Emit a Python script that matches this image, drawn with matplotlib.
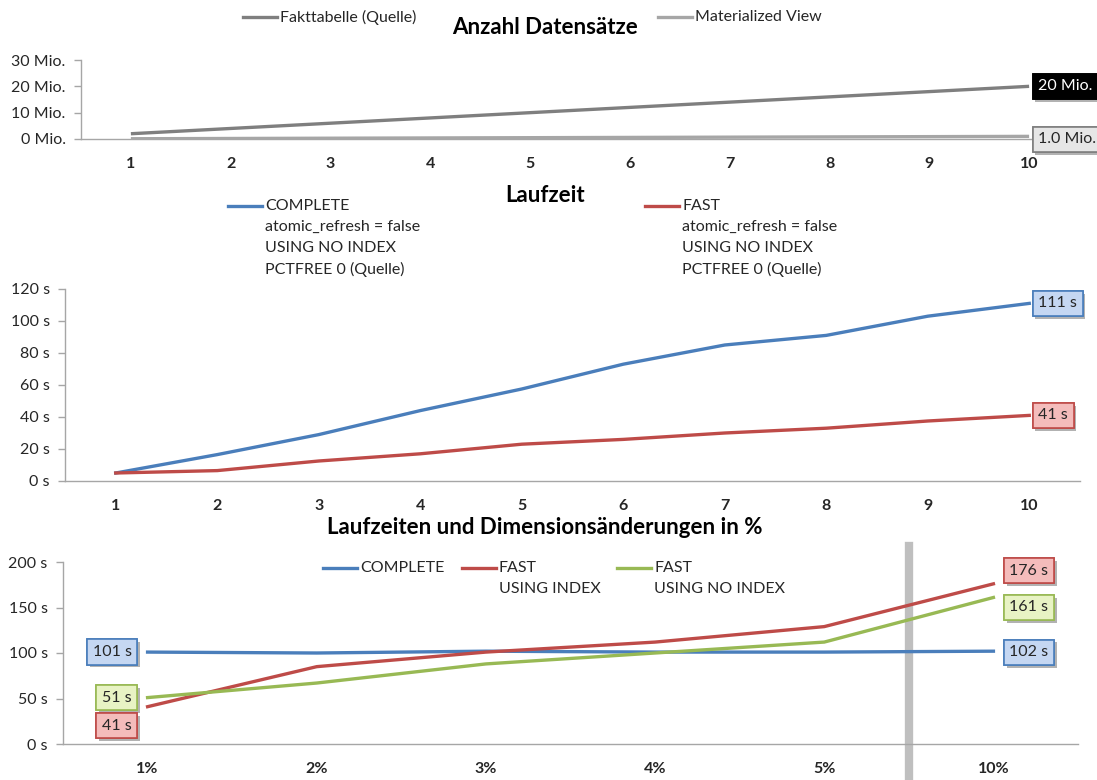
import numpy as np
import matplotlib
matplotlib.use('Agg')
import matplotlib.pyplot as plt
import matplotlib.patheffects as pe
from matplotlib.lines import Line2D

plt.rcParams['font.family'] = ['Lato', 'DejaVu Sans']

W, H = 1097, 780

# Anzahl Datensätze (Mio.)
runs = list(range(1, 11))
fakt_rows = [2, 4, 6, 8, 10, 12, 14, 16, 18, 20]
mv_rows = [0.1, 0.2, 0.3, 0.4, 0.5, 0.6, 0.7, 0.8, 0.9, 1.0]

# Laufzeit (s)
complete_time = [5, 16.5, 29, 44, 57.5, 73, 85, 91, 103, 111]
fast_time = [5, 6.5, 12.5, 17, 23, 26, 30, 33, 37.5, 41]

# Laufzeiten und Dimensionsänderungen in %
pct_labels = ['1%', '2%', '3%', '4%', '5%', '10%']
pct_complete = [101, 100, 102, 101, 101, 102]
pct_fast_index = [41, 85, 101, 112, 129, 176]
pct_fast_noindex = [51, 67, 88, 100, 112, 161]

BLUE = '#4a7ebb'
RED = '#be4b48'
GREEN = '#98b954'
DARK = '#7f7f7f'
LIGHT = '#a6a6a6'
TXT = '#262626'
FS = 11.5


def px_axes(fig, left, top, right, bottom):
    return fig.add_axes([left / W, 1 - bottom / H, (right - left) / W, (bottom - top) / H])


def style(ax, yticks, ylabels):
    for s in ('top', 'right'):
        ax.spines[s].set_visible(False)
    for s in ('left', 'bottom'):
        ax.spines[s].set_color('#a6a6a6')
        ax.spines[s].set_linewidth(1.0)
    ax.set_yticks(yticks)
    ax.set_yticklabels(ylabels)
    ax.set_ylim(yticks[0], yticks[-1])
    ax.tick_params(axis='y', length=5, width=1, color='#a6a6a6', labelsize=FS,
                   labelcolor=TXT, pad=6)
    ax.tick_params(axis='x', length=0, labelsize=FS, labelcolor=TXT, pad=13)
    for lab in ax.get_xticklabels():
        lab.set_fontweight('bold')


def legend_entry(fig, x, y, color, lines):
    fig.add_artist(Line2D([x / W, (x + 34) / W], [1 - y / H, 1 - y / H],
                          color=color, lw=2.4, transform=fig.transFigure))
    for i, t in enumerate(lines):
        fig.text((x + 37) / W, 1 - (y + 21 * i) / H, t, ha='left', va='center',
                 fontsize=FS, color=TXT)


def value_label(ax, x, y, text, dx, dy, face, edge, color=TXT, ha='left'):
    t = ax.annotate(text, xy=(x, y), xytext=(dx, dy), textcoords='offset pixels',
                    ha=ha, va='center', fontsize=FS, color=color,
                    bbox=dict(boxstyle='square,pad=0.35', fc=face, ec=edge, lw=1.2))
    t.get_bbox_patch().set_path_effects(
        [pe.withSimplePatchShadow(offset=(2, -2), shadow_rgbFace='#000000', alpha=0.3),
         pe.Normal()])
    return t


fig = plt.figure(figsize=(W / 100, H / 100), dpi=100)

# --- Anzahl Datensätze ---
ax1 = px_axes(fig, 81, 60, 1079, 139)
ax1.plot(runs, fakt_rows, color=DARK, lw=2.4, solid_capstyle='butt')
ax1.plot(runs, mv_rows, color=LIGHT, lw=2.4, solid_capstyle='butt')
ax1.set_xlim(0.5, 10.5)
ax1.set_xticks(runs)
style(ax1, [0, 10, 20, 30], ['0 Mio.', '10 Mio.', '20 Mio.', '30 Mio.'])
value_label(ax1, runs[-1], fakt_rows[-1], '%d Mio.' % fakt_rows[-1], 9, 0, '#000000', '#000000',
            color='white')
value_label(ax1, runs[-1], mv_rows[-1], '%.1f Mio.' % mv_rows[-1], 9, -3, '#e6e6e6', '#7f7f7f')
fig.text(545 / W, 1 - 28 / H, 'Anzahl Datensätze', ha='center', va='center',
         fontsize=16, fontweight='bold', color='black')
legend_entry(fig, 243, 17, DARK, ['Fakttabelle (Quelle)'])
legend_entry(fig, 658, 17, LIGHT, ['Materialized View'])

# --- Laufzeit ---
ax2 = px_axes(fig, 65, 289, 1080, 481)
ax2.plot(runs, complete_time, color=BLUE, lw=2.4)
ax2.plot(runs, fast_time, color=RED, lw=2.4)
ax2.set_xlim(0.5, 10.5)
ax2.set_xticks(runs)
style(ax2, [0, 20, 40, 60, 80, 100, 120], ['%d s' % v for v in range(0, 121, 20)])
value_label(ax2, runs[-1], complete_time[-1], '%d s' % complete_time[-1], 9, 0, '#c5d7f2', BLUE)
value_label(ax2, runs[-1], fast_time[-1], '%d s' % fast_time[-1], 9, 0, '#f4bcbb', RED)
fig.text(545 / W, 1 - 195 / H, 'Laufzeit', ha='center', va='center',
         fontsize=16, fontweight='bold', color='black')
legend_entry(fig, 228, 206, BLUE, ['COMPLETE', 'atomic_refresh = false', 'USING NO INDEX',
                                   'PCTFREE 0 (Quelle)'])
legend_entry(fig, 645, 206, RED, ['FAST', 'atomic_refresh = false', 'USING NO INDEX',
                                  'PCTFREE 0 (Quelle)'])

# --- Laufzeiten und Dimensionsänderungen in % ---
pos = np.arange(1, len(pct_labels) + 1)
ax3 = px_axes(fig, 63, 562, 1078, 744)
ax3.plot(pos, pct_complete, color=BLUE, lw=2.4)
ax3.plot(pos, pct_fast_index, color=RED, lw=2.4)
ax3.plot(pos, pct_fast_noindex, color=GREEN, lw=2.4)
ax3.set_xlim(0.5, len(pct_labels) + 0.5)
ax3.set_xticks(pos)
ax3.set_xticklabels(pct_labels)
style(ax3, [0, 50, 100, 150, 200], ['%d s' % v for v in range(0, 201, 50)])
# break marker between 5% and 10%
ax3.axvline(5.5, ymin=-0.2, ymax=1.09, color='#bfbfbf', lw=6, clip_on=False, zorder=0)

value_label(ax3, pos[0], pct_complete[0], '%d s' % pct_complete[0], -16, 0, '#c5d7f2', BLUE, ha='right')
value_label(ax3, pos[0], pct_fast_noindex[0], '%d s' % pct_fast_noindex[0], -16, 0, '#e8f3c4', GREEN, ha='right')
value_label(ax3, pos[0], pct_fast_index[0], '%d s' % pct_fast_index[0], -16, -19, '#f4bcbb', RED, ha='right')
value_label(ax3, pos[-1], pct_fast_index[-1], '%d s' % pct_fast_index[-1], 16, 13, '#f4bcbb', RED)
value_label(ax3, pos[-1], pct_fast_noindex[-1], '%d s' % pct_fast_noindex[-1], 16, -10, '#e8f3c4', GREEN)
value_label(ax3, pos[-1], pct_complete[-1], '%d s' % pct_complete[-1], 16, -1, '#c5d7f2', BLUE)
fig.text(545 / W, 1 - 527 / H, 'Laufzeiten und Dimensionsänderungen in %', ha='center',
         va='center', fontsize=16, fontweight='bold', color='black')
legend_entry(fig, 323, 568, BLUE, ['COMPLETE'])
legend_entry(fig, 462, 568, RED, ['FAST', 'USING INDEX'])
legend_entry(fig, 617, 568, GREEN, ['FAST', 'USING NO INDEX'])

fig.savefig('out.png', dpi=100)
